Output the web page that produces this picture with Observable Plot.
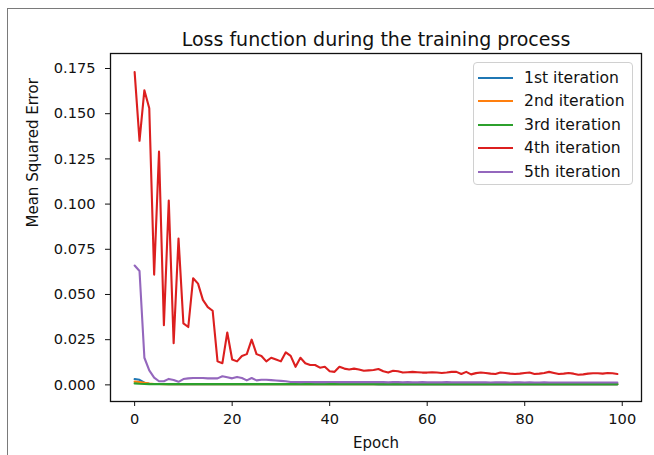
<!DOCTYPE html>
<html>
<head>
<meta charset="utf-8">
<script src="https://cdn.jsdelivr.net/npm/d3@7"></script>
<script src="https://cdn.jsdelivr.net/npm/@observablehq/plot@0.6"></script>
<style>
  html, body { margin: 0; padding: 0; background: #fff; }
  #wrap { position: relative; width: 654px; height: 455px; overflow: hidden; font-family: "DejaVu Sans", sans-serif; }
  #outer { position: absolute; left: 7px; top: 8px; width: 700px; height: 500px; border-left: 1.5px solid #7a7a7a; border-top: 1.5px solid #7a7a7a; pointer-events: none; }
  #legend { position: absolute; left: 473px; top: 62px; width: 160px; height: 123px; border: 1px solid #d0d0d0; border-radius: 4px; background: rgba(255,255,255,0.85); box-sizing: border-box; }
  .row { position: absolute; left: 0; height: 20px; display: flex; align-items: center; font-size: 15.6px; color: #111; }
  .swatch { display: inline-block; width: 35px; height: 2px; margin-left: 4px; margin-right: 11px; }
</style>
</head>
<body>
<div id="wrap"></div>
<script>
// ---- data ----
const seriesNames = ["1st iteration", "2nd iteration", "3rd iteration", "4th iteration", "5th iteration"];
const seriesColors = ["#1f77b4", "#ff7f0e", "#2ca02c", "#dc1f1f", "#9467bd"];
const xTicks = [0, 20, 40, 60, 80, 100];
const yTicks = [0, 0.025, 0.05, 0.075, 0.1, 0.125, 0.15, 0.175];

const iter1 = [0.0032,0.0028,0.0012,0.0006,0.0005,0.0005,0.0005,0.0004,0.0004,0.0004,
  0.0004,0.0004,0.0004,0.0004,0.0004,0.0004,0.0004,0.0004,0.0004,0.0004,
  0.0004,0.0004,0.0004,0.0004,0.0004,0.0004,0.0004,0.0004,0.0004,0.0004,
  0.0004,0.0004,0.0004,0.0004,0.0004,0.0004,0.0004,0.0004,0.0004,0.0004,
  0.0004,0.0004,0.0004,0.0004,0.0004,0.0004,0.0004,0.0004,0.0004,0.0004,
  0.0003,0.0003,0.0003,0.0003,0.0003,0.0003,0.0003,0.0003,0.0003,0.0003,
  0.0003,0.0003,0.0003,0.0003,0.0003,0.0003,0.0003,0.0003,0.0003,0.0003,
  0.0003,0.0003,0.0003,0.0003,0.0003,0.0003,0.0003,0.0003,0.0003,0.0003,
  0.0003,0.0003,0.0003,0.0003,0.0003,0.0003,0.0003,0.0003,0.0003,0.0003,
  0.0003,0.0003,0.0003,0.0003,0.0003,0.0003,0.0003,0.0003,0.0003,0.0003];
const iter2 = [0.0018,0.0016,0.0012,0.0007,0.0005,0.0005,0.0004,0.0004,0.0004,0.0004,
  0.0004,0.0004,0.0004,0.0004,0.0004,0.0004,0.0004,0.0004,0.0004,0.0004,
  0.0004,0.0004,0.0004,0.0004,0.0004,0.0004,0.0004,0.0004,0.0004,0.0004,
  0.0004,0.0004,0.0004,0.0004,0.0004,0.0004,0.0004,0.0004,0.0004,0.0004,
  0.0004,0.0004,0.0004,0.0004,0.0004,0.0004,0.0004,0.0004,0.0004,0.0004,
  0.0004,0.0004,0.0004,0.0004,0.0004,0.0004,0.0004,0.0004,0.0004,0.0004,
  0.0004,0.0004,0.0004,0.0004,0.0004,0.0004,0.0004,0.0004,0.0004,0.0004,
  0.0004,0.0004,0.0004,0.0004,0.0004,0.0004,0.0004,0.0004,0.0004,0.0004,
  0.0004,0.0004,0.0004,0.0004,0.0004,0.0004,0.0004,0.0004,0.0004,0.0004,
  0.0004,0.0004,0.0004,0.0004,0.0004,0.0004,0.0004,0.0004,0.0004,0.0004];
const iter3 = [0.0008,0.0006,0.0005,0.0004,0.0004,0.0004,0.0004,0.0004,0.0004,0.0004,
  0.0004,0.0004,0.0004,0.0004,0.0004,0.0004,0.0004,0.0004,0.0004,0.0004,
  0.0004,0.0004,0.0004,0.0004,0.0004,0.0004,0.0004,0.0004,0.0004,0.0004,
  0.0004,0.0004,0.0004,0.0004,0.0004,0.0004,0.0004,0.0004,0.0004,0.0004,
  0.0004,0.0004,0.0004,0.0004,0.0004,0.0004,0.0004,0.0004,0.0004,0.0004,
  0.0004,0.0004,0.0004,0.0004,0.0004,0.0004,0.0004,0.0004,0.0004,0.0004,
  0.0004,0.0004,0.0004,0.0004,0.0004,0.0004,0.0004,0.0004,0.0004,0.0004,
  0.0004,0.0004,0.0004,0.0004,0.0004,0.0004,0.0004,0.0004,0.0004,0.0004,
  0.0004,0.0004,0.0004,0.0004,0.0004,0.0004,0.0004,0.0004,0.0004,0.0004,
  0.0004,0.0004,0.0004,0.0004,0.0004,0.0004,0.0004,0.0004,0.0004,0.0004];
const iter4 = [0.173,0.135,0.163,0.153,0.061,0.129,0.033,0.102,0.023,0.081,
  0.034,0.032,0.059,0.056,0.047,0.043,0.041,0.013,0.012,0.029,
  0.014,0.013,0.016,0.017,0.025,0.017,0.016,0.013,0.015,0.014,
  0.013,0.018,0.016,0.010,0.015,0.012,0.011,0.011,0.0095,0.010,
  0.0075,0.0072,0.010,0.009,0.0085,0.009,0.0085,0.0078,0.008,0.0082,
  0.0088,0.0075,0.0068,0.0078,0.0075,0.0068,0.007,0.0072,0.007,0.0068,
  0.0068,0.007,0.0068,0.0066,0.0068,0.0072,0.0072,0.006,0.0072,0.0058,
  0.0065,0.0068,0.0066,0.0062,0.006,0.0068,0.0066,0.0062,0.006,0.0062,
  0.0066,0.0068,0.006,0.0062,0.0066,0.0072,0.0066,0.006,0.0062,0.0066,
  0.0062,0.0056,0.0058,0.0062,0.0064,0.0064,0.0062,0.0066,0.0064,0.006];
const iter5 = [0.066,0.063,0.015,0.008,0.004,0.002,0.002,0.0033,0.0027,0.0017,
  0.0032,0.0036,0.0038,0.0038,0.0038,0.0036,0.0036,0.0036,0.0048,0.0042,
  0.0036,0.0044,0.0038,0.0025,0.0038,0.0025,0.0028,0.0028,0.0026,0.0024,
  0.0022,0.002,0.0016,0.0016,0.0015,0.0016,0.0016,0.0015,0.0016,0.0015,
  0.0016,0.0016,0.0015,0.0015,0.0016,0.0015,0.0015,0.0016,0.0015,0.0015,
  0.0015,0.0015,0.0014,0.0015,0.0015,0.0014,0.0015,0.0014,0.0014,0.0015,
  0.0014,0.0014,0.0014,0.0014,0.0015,0.0014,0.0014,0.0014,0.0014,0.0014,
  0.0014,0.0014,0.0014,0.0013,0.0014,0.0014,0.0014,0.0013,0.0014,0.0014,
  0.0013,0.0014,0.0013,0.0013,0.0014,0.0013,0.0013,0.0013,0.0013,0.0013,
  0.0013,0.0013,0.0013,0.0013,0.0013,0.0013,0.0013,0.0013,0.0013,0.0013];

const allSeries = [iter1, iter2, iter3, iter4, iter5];
const rows = [];
allSeries.forEach((vals, s) => vals.forEach((v, i) => rows.push({epoch: i, mse: v, series: seriesNames[s]})));

const plot = Plot.plot({
  width: 654,
  height: 455,
  marginLeft: 110,
  marginRight: 13,
  marginTop: 53,
  marginBottom: 54,
  style: {fontFamily: "DejaVu Sans, sans-serif", fontSize: "14.6px", color: "#111", background: "#fff"},
  x: {domain: [-4.95, 103.95]},
  y: {domain: [-0.0092, 0.1833]},
  color: {domain: seriesNames, range: seriesColors},
  marks: [
    Plot.axisX({ticks: xTicks, tickSize: 5, tickPadding: 7, label: null, tickFormat: d3.format("d"), stroke: "#111"}),
    Plot.axisY({ticks: yTicks, tickSize: 5, tickPadding: 10, label: null, tickFormat: d3.format(".3f"), stroke: "#111"}),
    Plot.lineY(rows, {x: "epoch", y: "mse", z: "series", stroke: "series", strokeWidth: 2.1}),
    Plot.frame({stroke: "#111", strokeWidth: 1.3}),
    Plot.text(["Loss function during the training process"], {frameAnchor: "top", dy: -14, text: d => d, fontSize: 19, fill: "#111", lineAnchor: "middle"}),
    Plot.text(["Epoch"], {frameAnchor: "bottom", dy: 42, text: d => d, fontSize: 15, fill: "#111", lineAnchor: "middle"}),
    Plot.text(["Mean Squared Error"], {frameAnchor: "left", dx: -77, rotate: -90, text: d => d, fontSize: 15, fill: "#111", lineAnchor: "middle"})
  ]
});

const wrap = document.getElementById("wrap");
wrap.appendChild(plot);
const outer = document.createElement("div");
outer.id = "outer";
wrap.appendChild(outer);

const legend = document.createElement("div");
legend.id = "legend";
const rowTops = [5, 28, 52, 75, 99];
seriesNames.forEach((name, i) => {
  const r = document.createElement("div");
  r.className = "row";
  r.style.top = rowTops[i] + "px";
  const sw = document.createElement("span");
  sw.className = "swatch";
  sw.style.background = seriesColors[i];
  const t = document.createElement("span");
  t.textContent = name;
  r.appendChild(sw);
  r.appendChild(t);
  legend.appendChild(r);
});
wrap.appendChild(legend);
</script>
</body>
</html>
